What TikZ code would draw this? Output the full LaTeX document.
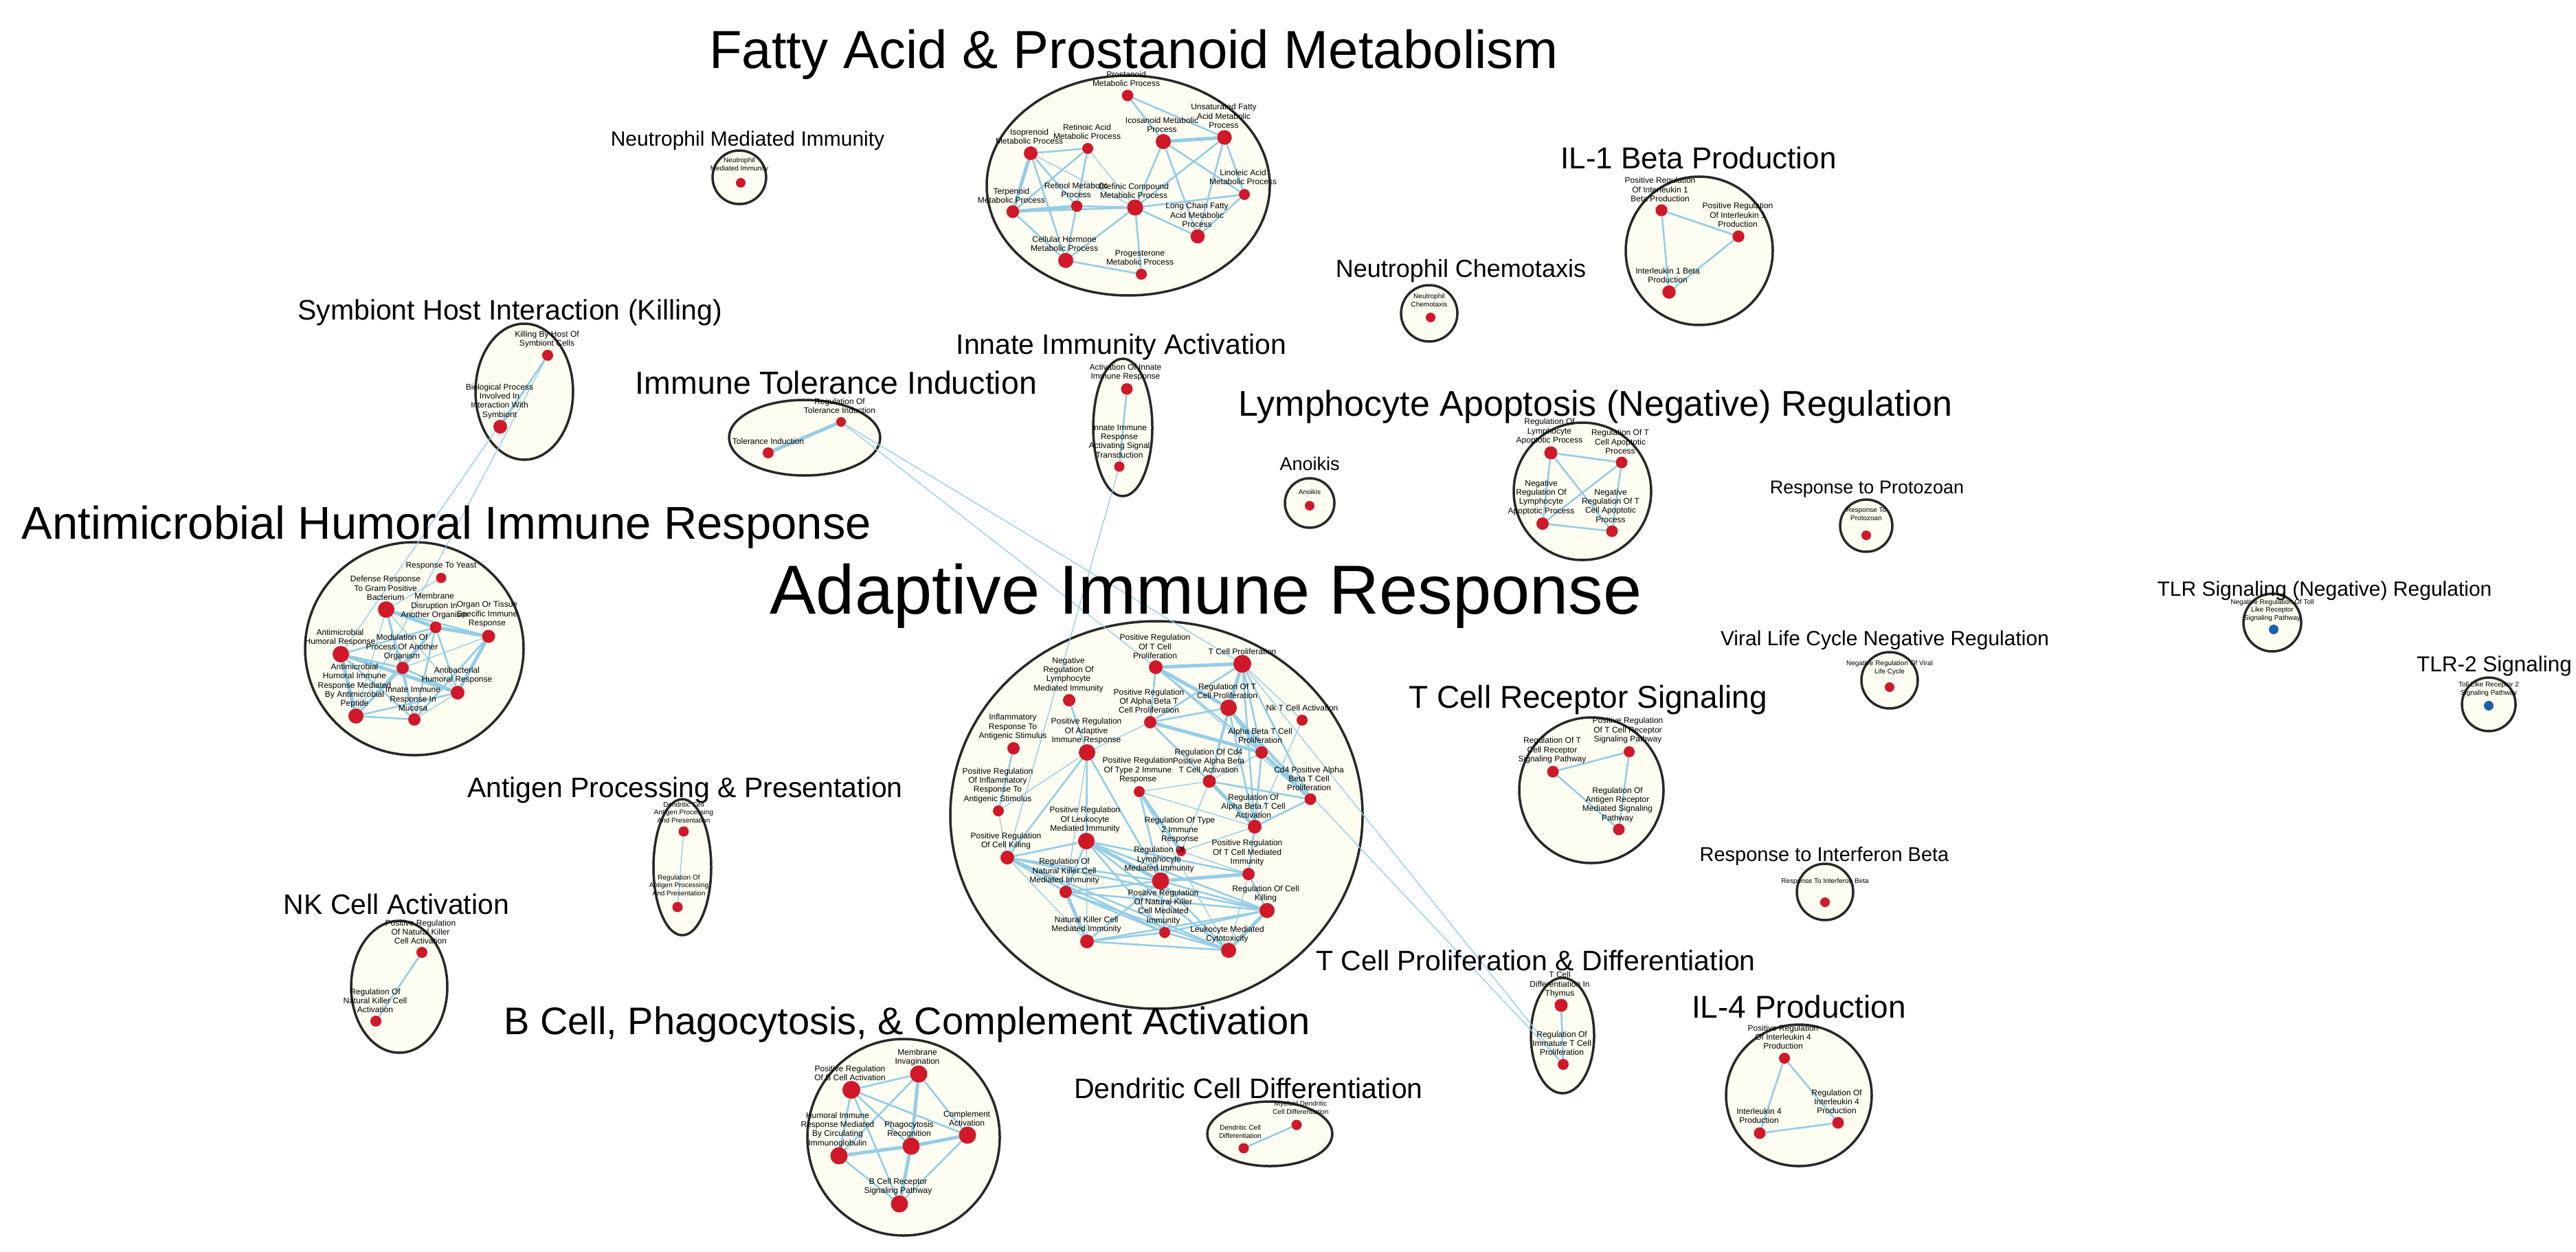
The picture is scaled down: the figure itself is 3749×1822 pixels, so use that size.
\documentclass[tikz,border=0pt]{standalone}
\usepackage{fontspec}
\setmainfont{Liberation Sans}
\usetikzlibrary{shapes.geometric}
\pgfdeclarelayer{bg}
\pgfdeclarelayer{edges}
\pgfdeclarelayer{fg}
\pgfsetlayers{bg,edges,main,fg}
\definecolor{nodered}{RGB}{208,24,40}
\definecolor{edgeblue}{RGB}{148,205,231}
\definecolor{cream}{RGB}{253,253,242}
\definecolor{rim}{RGB}{40,40,40}
\definecolor{tlrblue}{RGB}{28,96,168}
\newcommand{\edg}[3][ed]{\draw[#1] (#2) -- (#3);}
\newcommand{\gnd}[4]{\node[nd, minimum size={2*#4}] (#1) at (#2,#3) {};}
\newcommand{\glb}[4]{\node[lb] (#1l) at (#2,#3) {#4};}
\newcommand{\gls}[4]{\node[lbs] (#1l) at (#2,#3) {#4};}
\newcommand{\ttl}[5]{\node[tt, font=\fontsize{#4}{#4}\selectfont] (#1) at (#2,#3) {#5};}
\begin{document}
\begin{tikzpicture}[x=1pt,y=-1pt,
  cl/.style={draw=rim, line width=3.5pt, fill=cream, ellipse, inner sep=0pt},
  nd/.style={circle, fill=nodered, inner sep=0pt},
  lb/.style={font=\fontsize{12}{13.3}\selectfont, align=center, inner sep=0pt},
  lbs/.style={font=\fontsize{10}{11.5}\selectfont, align=center, inner sep=0pt},
  ed/.style={draw=edgeblue, line width=2.6pt},
  tn/.style={draw=edgeblue, line width=1.3pt},
  tk/.style={draw=edgeblue, line width=5pt},
  tt/.style={anchor=base, inner sep=0pt}]
\begin{pgfonlayer}{bg}
\fill[white] (0,0) rectangle (3749,1822);
\node[cl, minimum width=412, minimum height=320] (cfa) at (1642,270) {};
\node[cl, minimum width=78, minimum height=78] (cnm) at (1076,258) {};
\node[cl, minimum width=214, minimum height=216] (cil1) at (2473,365) {};
\node[cl, minimum width=142, minimum height=198] (csy) at (763,570) {};
\node[cl, minimum width=82, minimum height=82] (cnc) at (2080,456) {};
\node[cl, minimum width=86, minimum height=200] (cin) at (1634,622) {};
\node[cl, minimum width=220, minimum height=110] (cto) at (1171,637) {};
\node[cl, minimum width=200, minimum height=200] (cla) at (2303,715) {};
\node[cl, minimum width=72, minimum height=72] (can) at (1906,732) {};
\node[cl, minimum width=76, minimum height=76] (cpr) at (2716,765) {};
\node[cl, minimum width=318, minimum height=310] (cam) at (603,944) {};
\node[cl, minimum width=600, minimum height=564] (cad) at (1683,1186) {};
\node[cl, minimum width=84, minimum height=84] (ctlr) at (3307,906) {};
\node[cl, minimum width=82, minimum height=82] (cvi) at (2750,990) {};
\node[cl, minimum width=78, minimum height=78] (ctlr2) at (3622,1025) {};
\node[cl, minimum width=210, minimum height=212] (ctcr) at (2316,1150) {};
\node[cl, minimum width=84, minimum height=198] (cag) at (993,1262) {};
\node[cl, minimum width=82, minimum height=82] (cif) at (2656,1298) {};
\node[cl, minimum width=140, minimum height=192] (cnk) at (581,1436) {};
\node[cl, minimum width=92, minimum height=168] (ctd) at (2274,1507) {};
\node[cl, minimum width=212, minimum height=206] (cil4) at (2618,1594) {};
\node[cl, minimum width=280, minimum height=286] (cbc) at (1315,1655) {};
\node[cl, minimum width=182, minimum height=94] (cdc) at (1848,1650) {};
\end{pgfonlayer}
\useasboundingbox (0,0) rectangle (3749,1822);
% ---------- nodes ----------
% fatty acid
\gnd{fa1}{1641}{139}{8.3}\gnd{fa2}{1782}{200}{10.7}\gnd{fa3}{1693}{206}{11}
\gnd{fa4}{1500}{223}{10}\gnd{fa5}{1583}{216}{8}\gnd{fa6}{1811}{283}{8}
\gnd{fa7}{1474}{308}{9.3}\gnd{fa8}{1567}{300}{8.3}\gnd{fa9}{1652}{302}{11.7}
\gnd{fa10}{1743}{344}{10.3}\gnd{fa11}{1551}{379}{11}\gnd{fa12}{1661}{399}{8}
% neutrophil
\gnd{nm1}{1078}{266}{7}
\gnd{nc1}{2082}{462}{7}
% IL-1
\gnd{i1}{2418}{306}{8.7}\gnd{i2}{2530}{344}{8.7}\gnd{i3}{2429}{425}{9.7}
% symbiont
\gnd{sy1}{797}{517}{8}\gnd{sy2}{728}{621}{10}
% innate
\gnd{in1}{1640}{566}{8.5}\gnd{in2}{1629}{679}{7.5}
% tolerance
\gnd{to1}{1224}{614}{7}\gnd{to2}{1118}{659}{8}
% lymphocyte apoptosis
\gnd{la1}{2257}{659}{9.5}\gnd{la2}{2360}{673}{8.5}\gnd{la3}{2245}{762}{9}\gnd{la4}{2346}{773}{8.5}
% single
\gnd{an1}{1906}{736}{7}
\gnd{pr1}{2716}{779}{7}
\node[nd, fill=tlrblue, minimum size=14] (tl1) at (3309,916) {};
\node[nd, fill=tlrblue, minimum size=14] (tl2) at (3622,1027) {};
\gnd{vi1}{2750}{1000}{7}
\gnd{if1}{2656}{1313}{7}
% antimicrobial
\gnd{am1}{642}{841}{7.5}\gnd{am2}{562}{887}{12}\gnd{am3}{634}{913}{8.5}
\gnd{am4}{711}{926}{9.5}\gnd{am5}{496}{952}{12}\gnd{am6}{586}{972}{9}
\gnd{am7}{666}{1008}{10}\gnd{am8}{518}{1042}{11}\gnd{am9}{603}{1047}{9}
% adaptive
\gnd{ad1}{1682}{971}{10}\gnd{ad2}{1808}{966}{13}\gnd{ad3}{1556}{1019}{9}
\gnd{ad4}{1674}{1051}{9}\gnd{ad5}{1788}{1030}{12}\gnd{ad6}{1895}{1048}{8}
\gnd{ad7}{1475}{1089}{9}\gnd{ad8}{1582}{1095}{12}\gnd{ad9}{1836}{1095}{9}
\gnd{ad10}{1760}{1137}{9.5}\gnd{ad11}{1658}{1152}{8}\gnd{ad12}{1907}{1163}{8.5}
\gnd{ad13}{1453}{1180}{8}\gnd{ad14}{1826}{1203}{10}\gnd{ad15}{1581}{1224}{12}
\gnd{ad16}{1719}{1239}{7}\gnd{ad17}{1466}{1248}{10}\gnd{ad18}{1689}{1282}{12.5}
\gnd{ad19}{1817}{1272}{9}\gnd{ad20}{1551}{1298}{9}\gnd{ad21}{1844}{1325}{11}
\gnd{ad22}{1695}{1357}{8}\gnd{ad23}{1582}{1370}{10}\gnd{ad24}{1788}{1383}{11}
% TCR
\gnd{tr1}{2371}{1094}{8}\gnd{tr2}{2260}{1123}{8.5}\gnd{tr3}{2356}{1207}{8.5}
% antigen
\gnd{ag1}{995}{1210}{7.5}\gnd{ag2}{986}{1320}{7.5}
% NK
\gnd{nk1}{614}{1386}{8}\gnd{nk2}{547}{1486}{8}
% T cell diff
\gnd{td1}{2272}{1463}{9.5}\gnd{td2}{2275}{1549}{8}
% IL-4
\gnd{il1}{2597}{1540}{8}\gnd{il2}{2675}{1634}{8.5}\gnd{il3}{2561}{1649}{8.5}
% B cell
\gnd{b1}{1239}{1586}{13}\gnd{b2}{1337}{1563}{12.5}\gnd{b3}{1408}{1652}{12.5}
\gnd{b4}{1326}{1668}{12.5}\gnd{b5}{1221}{1682}{12.5}\gnd{b6}{1309}{1752}{12.5}
% dendritic
\gnd{dc1}{1887}{1637}{7.5}\gnd{dc2}{1810}{1671}{7.5}
% ---------- edges ----------
\begin{pgfonlayer}{edges}
\edg{fa1}{fa3}\edg{fa1}{fa2}\edg[tk]{fa3}{fa2}\edg{fa3}{fa9}\edg{fa3}{fa10}\edg{fa3}{fa6}
\edg{fa2}{fa9}\edg{fa2}{fa10}\edg{fa2}{fa6}\edg{fa4}{fa5}\edg[tk]{fa4}{fa7}\edg{fa4}{fa8}
\edg{fa4}{fa11}\edg[tn]{fa4}{fa9}\edg{fa5}{fa7}\edg{fa5}{fa8}\edg[tn]{fa5}{fa9}\edg[tk]{fa7}{fa8}
\edg{fa7}{fa9}\edg{fa7}{fa11}\edg{fa8}{fa9}\edg{fa8}{fa11}\edg{fa9}{fa6}\edg{fa9}{fa10}
\edg{fa9}{fa11}\edg{fa9}{fa12}\edg{fa11}{fa12}\edg{fa6}{fa10}
\edg{i1}{i2}\edg{i1}{i3}\edg{i2}{i3}
\edg{sy1}{sy2}
\edg{in1}{in2}
\edg[tk]{to1}{to2}
\edg{la1}{la2}\edg{la1}{la3}\edg{la1}{la4}\edg{la2}{la3}\edg{la2}{la4}\edg{la3}{la4}
\edg[tn]{am1}{am2}\edg[tk]{am2}{am3}\edg{am2}{am4}\edg{am2}{am6}\edg{am2}{am9}\edg[tn]{am2}{am7}\edg[tn]{am2}{am8}
\edg[tk]{am3}{am4}\edg{am3}{am5}\edg{am3}{am6}\edg{am3}{am7}\edg{am3}{am9}\edg{am3}{am8}
\edg[tn]{am4}{am6}\edg[tk]{am4}{am7}\edg{am4}{am9}
\edg{am5}{am6}\edg[tk]{am5}{am7}\edg[tk]{am5}{am8}\edg{am5}{am9}
\edg{am6}{am8}\edg{am6}{am7}\edg{am6}{am9}\edg{am8}{am9}\edg{am8}{am7}\edg[tn]{am9}{am7}
\edg[tk]{ad1}{ad2}\edg{ad1}{ad4}\edg[tk]{ad1}{ad5}\edg{ad1}{ad9}\edg[tn]{ad1}{ad12}
\edg[tk]{ad2}{ad5}\edg{ad2}{ad4}\edg{ad2}{ad9}\edg[tn]{ad2}{ad6}\edg{ad2}{ad12}\edg{ad2}{ad14}\edg{ad2}{ad10}
\edg{ad5}{ad4}\edg[tk]{ad5}{ad9}\edg{ad5}{ad10}\edg{ad5}{ad12}\edg{ad5}{ad14}
\edg[tk]{ad4}{ad9}\edg[tn]{ad4}{ad8}\edg{ad4}{ad10}\edg{ad3}{ad8}\edg[tn]{ad6}{ad14}
\edg[tk]{ad9}{ad12}\edg{ad9}{ad14}\edg[tn]{ad9}{ad10}\edg{ad10}{ad12}\edg[tk]{ad10}{ad14}
\edg[tn]{ad10}{ad11}\edg[tn]{ad10}{ad16}\edg{ad12}{ad14}\edg{ad7}{ad13}\edg[tn]{ad8}{ad13}
\edg{ad8}{ad15}\edg{ad8}{ad18}\edg{ad8}{ad17}\edg[tn]{ad8}{ad20}\edg[tk]{ad11}{ad16}
\edg{ad11}{ad18}\edg[tn]{ad11}{ad14}\edg[tn]{ad11}{ad24}\edg[tn]{ad14}{ad16}\edg{ad14}{ad19}
\edg{ad15}{ad17}\edg[tk]{ad15}{ad18}\edg{ad15}{ad19}\edg{ad15}{ad21}\edg{ad15}{ad24}
\edg{ad15}{ad22}\edg{ad15}{ad20}\edg[tn]{ad15}{ad23}
\edg{ad17}{ad18}\edg{ad17}{ad20}\edg{ad17}{ad21}\edg{ad17}{ad24}\edg{ad17}{ad22}
\edg[tn]{ad17}{ad23}\edg[tn]{ad17}{ad13}
\edg[tk]{ad18}{ad19}\edg{ad18}{ad20}\edg{ad18}{ad21}\edg{ad18}{ad24}\edg{ad18}{ad23}\edg{ad18}{ad22}
\edg{ad20}{ad21}\edg{ad20}{ad24}\edg{ad20}{ad22}\edg[tk]{ad20}{ad23}
\edg[tk]{ad21}{ad24}\edg{ad21}{ad22}\edg{ad21}{ad23}\edg{ad21}{ad19}
\edg{ad23}{ad22}\edg{ad23}{ad24}\edg{ad22}{ad24}\edg[tn]{ad19}{ad24}\edg[tn]{ad19}{ad16}\edg{ad16}{ad18}
\edg{tr1}{tr2}\edg{tr1}{tr3}\edg{tr2}{tr3}
\edg[tn]{ag1}{ag2}
\edg{nk1}{nk2}
\edg{td1}{td2}
\edg{il1}{il2}\edg{il1}{il3}\edg{il2}{il3}
\edg{b1}{b2}\edg{b1}{b3}\edg{b1}{b4}\edg{b1}{b5}\edg{b1}{b6}
\edg{b2}{b5}\edg[tk]{b2}{b4}\edg{b2}{b3}\edg[tk]{b3}{b4}\edg{b3}{b6}
\edg[tk]{b5}{b4}\edg{b5}{b6}\edg[tk]{b4}{b6}
\edg{dc1}{dc2}
% between clusters
\edg[tn]{to1}{ad1}\edg[tn]{to1}{ad2}\edg[tn]{in2}{ad17}
\edg[tn]{ad2}{td2}\edg[tn]{ad5}{td2}
\edg[tn]{sy1}{am5}\edg[tn]{sy1}{am8}
\end{pgfonlayer}
% ---------- labels and titles ----------
\begin{pgfonlayer}{fg}
\glb{fa1}{1639}{115}{Prostanoid\\Metabolic Process}
\glb{fa2}{1781}{169}{Unsaturated Fatty\\Acid Metabolic\\Process}
\glb{fa3}{1691}{182}{Icosanoid Metabolic\\Process}
\glb{fa4}{1498}{199}{Isoprenoid\\Metabolic Process}
\glb{fa5}{1582}{192}{Retinoic Acid\\Metabolic Process}
\glb{fa6}{1809}{258}{Linoleic Acid\\Metabolic Process}
\glb{fa7}{1472}{285}{Terpenoid\\Metabolic Process}
\glb{fa8}{1566}{277}{Retinol Metabolic\\Process}
\glb{fa9}{1650}{278}{Olefinic Compound\\Metabolic Process}
\glb{fa10}{1742}{313}{Long Chain Fatty\\Acid Metabolic\\Process}
\glb{fa11}{1549}{355}{Cellular Hormone\\Metabolic Process}
\glb{fa12}{1659}{375}{Progesterone\\Metabolic Process}
\gls{nm1}{1076}{240}{Neutrophil\\Mediated Immunity}
\gls{nc1}{2080}{437}{Neutrophil\\Chemotaxis}
\glb{i1}{2416}{276}{Positive Regulation\\Of Interleukin 1\\Beta Production}
\glb{i2}{2529}{313}{Positive Regulation\\Of Interleukin 1\\Production}
\glb{i3}{2427}{401}{Interleukin 1 Beta\\Production}
\glb{sy1}{796}{494}{Killing By Host Of\\Symbiont Cells}
\glb{sy2}{727}{584}{Biological Process\\Involved In\\Interaction With\\Symbiont}
\glb{in1}{1638}{542}{Activation Of Innate\\Immune Response}
\glb{in2}{1629}{642}{Innate Immune\\Response\\Activating Signal\\Transduction}
\glb{to1}{1222}{591}{Regulation Of\\Tolerance Induction}
\glb{to2}{1118}{642}{Tolerance Induction}
\glb{la1}{2255}{628}{Regulation Of\\Lymphocyte\\Apoptotic Process}
\glb{la2}{2358}{643}{Regulation Of T\\Cell Apoptotic\\Process}
\glb{la3}{2243}{724}{Negative\\Regulation Of\\Lymphocyte\\Apoptotic Process}
\glb{la4}{2344}{736}{Negative\\Regulation Of T\\Cell Apoptotic\\Process}
\gls{an1}{1906}{716}{Anoikis}
\gls{pr1}{2716}{748}{Response To\\Protozoan}
\gls{tl1}{3307}{888}{Negative Regulation Of Toll\\Like Receptor\\Signaling Pathway}
\gls{tl2}{3622}{1003}{Toll Like Receptor 2\\Signaling Pathway}
\gls{vi1}{2750}{972}{Negative Regulation Of Viral\\Life Cycle}
\gls{if1}{2656}{1283}{Response To Interferon Beta}
\glb{am1}{642}{824}{Response To Yeast}
\glb{am2}{561}{856}{Defense Response\\To Gram Positive\\Bacterium}
\glb{am3}{632}{882}{Membrane\\Disruption In\\Another Organism}
\glb{am4}{709}{894}{Organ Or Tissue\\Specific Immune\\Response}
\glb{am5}{495}{928}{Antimicrobial\\Humoral Response}
\glb{am6}{585}{942}{Modulation Of\\Process Of Another\\Organism}
\glb{am7}{665}{983}{Antibacterial\\Humoral Response}
\glb{am8}{516}{998}{Antimicrobial\\Humoral Immune\\Response Mediated\\By Antimicrobial\\Peptide}
\glb{am9}{601}{1017}{Innate Immune\\Response In\\Mucosa}
\glb{ad1}{1681}{941}{Positive Regulation\\Of T Cell\\Proliferation}
\glb{ad2}{1808}{948}{T Cell Proliferation}
\glb{ad3}{1555}{982}{Negative\\Regulation Of\\Lymphocyte\\Mediated Immunity}
\glb{ad4}{1672}{1020}{Positive Regulation\\Of Alpha Beta T\\Cell Proliferation}
\glb{ad5}{1786}{1006}{Regulation Of T\\Cell Proliferation}
\glb{ad6}{1895}{1030}{Nk T Cell Activation}
\glb{ad7}{1474}{1058}{Inflammatory\\Response To\\Antigenic Stimulus}
\glb{ad8}{1581}{1064}{Positive Regulation\\Of Adaptive\\Immune Response}
\glb{ad9}{1834}{1071}{Alpha Beta T Cell\\Proliferation}
\glb{ad10}{1759}{1107}{Regulation Of Cd4\\Positive Alpha Beta\\T Cell Activation}
\glb{ad11}{1656}{1121}{Positive Regulation\\Of Type 2 Immune\\Response}
\glb{ad12}{1905}{1133}{Cd4 Positive Alpha\\Beta T Cell\\Proliferation}
\glb{ad13}{1452}{1143}{Positive Regulation\\Of Inflammatory\\Response To\\Antigenic Stimulus}
\glb{ad14}{1824}{1173}{Regulation Of\\Alpha Beta T Cell\\Activation}
\glb{ad15}{1579}{1193}{Positive Regulation\\Of Leukocyte\\Mediated Immunity}
\glb{ad16}{1717}{1208}{Regulation Of Type\\2 Immune\\Response}
\glb{ad17}{1464}{1224}{Positive Regulation\\Of Cell Killing}
\glb{ad18}{1687}{1251}{Regulation Of\\Lymphocyte\\Mediated Immunity}
\glb{ad19}{1815}{1241}{Positive Regulation\\Of T Cell Mediated\\Immunity}
\glb{ad20}{1549}{1268}{Regulation Of\\Natural Killer Cell\\Mediated Immunity}
\glb{ad21}{1842}{1301}{Regulation Of Cell\\Killing}
\glb{ad22}{1693}{1320}{Positive Regulation\\Of Natural Killer\\Cell Mediated\\Immunity}
\glb{ad23}{1581}{1346}{Natural Killer Cell\\Mediated Immunity}
\glb{ad24}{1786}{1360}{Leukocyte Mediated\\Cytotoxicity}
\glb{tr1}{2369}{1063}{Positive Regulation\\Of T Cell Receptor\\Signaling Pathway}
\glb{tr2}{2259}{1092}{Regulation Of T\\Cell Receptor\\Signaling Pathway}
\glb{tr3}{2354}{1171}{Regulation Of\\Antigen Receptor\\Mediated Signaling\\Pathway}
\gls{ag1}{995}{1182}{Dendritic Cell\\Antigen Processing\\And Presentation}
\gls{ag2}{988}{1288}{Regulation Of\\Antigen Processing\\And Presentation}
\glb{nk1}{612}{1356}{Positive Regulation\\Of Natural Killer\\Cell Activation}
\glb{nk2}{546}{1456}{Regulation Of\\Natural Killer Cell\\Activation}
\glb{td1}{2270}{1433}{T Cell\\Differentiation In\\Thymus}
\glb{td2}{2273}{1518}{Regulation Of\\Immature T Cell\\Proliferation}
\glb{il1}{2595}{1509}{Positive Regulation\\Of Interleukin 4\\Production}
\glb{il2}{2673}{1603}{Regulation Of\\Interleukin 4\\Production}
\glb{il3}{2560}{1624}{Interleukin 4\\Production}
\glb{b1}{1237}{1562}{Positive Regulation\\Of B Cell Activation}
\glb{b2}{1335}{1539}{Membrane\\Invagination}
\glb{b3}{1407}{1628}{Complement\\Activation}
\glb{b4}{1323}{1644}{Phagocytosis\\Recognition}
\glb{b5}{1219}{1644}{Humoral Immune\\Response Mediated\\By Circulating\\Immunoglobulin}
\glb{b6}{1307}{1727}{B Cell Receptor\\Signaling Pathway}
\gls{dc1}{1893}{1612}{Myeloid Dendritic\\Cell Differentiation}
\gls{dc2}{1805}{1647}{Dendritic Cell\\Differentiation}
% titles
\ttl{tfa}{1650}{100}{78}{Fatty Acid \& Prostanoid Metabolism}
\ttl{tnm}{1088}{212}{30}{Neutrophil Mediated Immunity}
\ttl{til1}{2472}{245}{44}{IL-1 Beta Production}
\ttl{tsy}{742}{465}{41}{Symbiont Host Interaction (Killing)}
\ttl{tnc}{2126}{403}{36}{Neutrophil Chemotaxis}
\ttl{tin}{1632}{515}{41}{Innate Immunity Activation}
\ttl{tto}{1217}{573}{46.5}{Immune Tolerance Induction}
\ttl{tla}{2322}{605}{52}{Lymphocyte Apoptosis (Negative) Regulation}
\ttl{tan}{1906}{684}{27}{Anoikis}
\ttl{tpr}{2717}{718}{27}{Response to Protozoan}
\ttl{tam}{650}{784}{67}{Antimicrobial Humoral Immune Response}
\ttl{tad}{1755}{893}{101}{Adaptive Immune Response}
\ttl{ttlr}{3383}{867}{30}{TLR Signaling (Negative) Regulation}
\ttl{tvi}{2743}{939}{30}{Viral Life Cycle Negative Regulation}
\ttl{ttlrb}{3630}{977}{31.5}{TLR-2 Signaling}
\ttl{ttcr}{2311}{1030}{46}{T Cell Receptor Signaling}
\ttl{tag}{997}{1160}{41}{Antigen Processing \& Presentation}
\ttl{tif}{2655}{1253}{29}{Response to Interferon Beta}
\ttl{tnk}{577}{1330}{41}{NK Cell Activation}
\ttl{ttd}{2235}{1412}{41}{T Cell Proliferation \& Differentiation}
\ttl{til4}{2618}{1481}{46}{IL-4 Production}
\ttl{tbc}{1320}{1505}{56}{B Cell, Phagocytosis, \& Complement Activation}
\ttl{tdc}{1817}{1598}{41}{Dendritic Cell Differentiation}
\end{pgfonlayer}
\end{tikzpicture}
\end{document}
